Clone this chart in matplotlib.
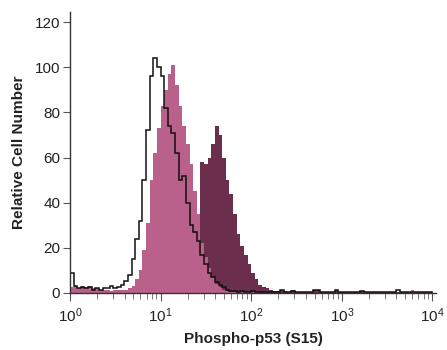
import numpy as np
import matplotlib
matplotlib.use("Agg")
import matplotlib.pyplot as plt
from matplotlib.ticker import LogLocator, FixedLocator

# log10 bin edges (0.04 decade bins, 10^0 .. 10^4)
bin_edges_log = np.round(np.arange(0, 4.0001, 0.04), 3)

# Isotype control (open, black outline)
control = [9, 3, 2, 2.5, 2, 2.5, 1.5, 2, 1.5, 2,
           2, 3, 2, 2.5, 3.5, 5.5, 8, 15, 24, 32,
           50, 72, 96, 104, 100, 96, 82, 74, 71, 62,
           50, 52, 40, 30, 27, 23, 17, 13, 9, 7,
           5, 3.5, 2.5, 1.5, 1, 1, 0.5, 1, 0.5, 0.5,
           1, 0.5, 0.5, 0.5, 0.5, 0.5, 0.5, 0.5, 1.5, 0.5,
           0.5, 1, 0.5, 0.5, 0.5, 0.5, 0.5, 1.5, 1.5, 0.5,
           0.5, 0.5, 0.5, 1.5, 0.5, 0.5, 0.5, 0.5, 0.5, 0.5,
           1, 0.5, 0.5, 0.5, 0.5, 0.5, 0.5, 0.5, 0.5, 0.5,
           1.5, 0.5, 0.5, 0.5, 0.5, 0.5, 0.5, 0.5, 0.5, 0.5]

# Untreated (light pink, filled)
untreated = [2.5, 3, 2, 3, 2.5, 3, 2, 2, 1.5, 1.5,
             1.5, 1, 1.5, 1.5, 1.5, 1.5, 2, 3, 6, 10,
             19, 31, 50, 62, 73, 83, 90, 97, 101, 92,
             83, 74, 66, 57, 45, 35, 22, 16, 11, 7,
             4, 2.5, 1.5, 1, 0.5, 0.5, 0.5, 0.5, 0.5, 0.5,
             0.5, 0.5, 0, 0, 0, 0, 0, 0, 0, 0,
             0, 0, 0, 0, 0, 0, 0, 0, 0, 0,
             0, 0, 0, 0, 0, 0, 0, 0, 0, 0,
             0, 0, 0, 0, 0, 0, 0, 0, 0, 0,
             0, 0, 0, 0, 1.5, 0, 0, 0, 0, 0]

# Treated (dark, filled)
treated = [1, 1, 1, 1, 1, 1, 1, 1, 1, 1,
           1, 1, 1, 1, 1, 1, 1, 1, 1, 1,
           2, 3, 5, 7, 9, 12, 15, 18, 21, 23,
           25, 28, 32, 36, 40, 33, 58, 57, 60, 66,
           74, 70, 60, 50, 44, 35, 26, 21, 17, 13,
           9, 6, 3.5, 2.5, 2, 1.5, 1, 1, 1.5, 1,
           0.5, 1.5, 0.5, 0.5, 0.5, 0.5, 0.5, 1.5, 1.5, 0.5,
           0.5, 0.5, 0.5, 1.5, 0.5, 0.5, 0.5, 0.5, 0.5, 0.5,
           1, 0.5, 0.5, 0.5, 0.5, 0.5, 0.5, 0.5, 0.5, 0.5,
           0.5, 0.5, 0.5, 0.5, 0.5, 0.5, 0.5, 0.5, 0.5, 0.5]

y_ticks = [0, 20, 40, 60, 80, 100, 120]
x_label = "Phospho-p53 (S15)"
y_label = "Relative Cell Number"

plt.rcParams['font.family'] = ['Liberation Sans', 'DejaVu Sans']
plt.rcParams['mathtext.fontset'] = 'custom'
plt.rcParams['mathtext.rm'] = 'Liberation Sans'
plt.rcParams['mathtext.it'] = 'Liberation Sans'

fig = plt.figure(figsize=(4.47, 3.5), dpi=100)
ax = fig.add_axes([0.1566, 0.1629, 0.8188, 0.8028])

edges = 10 ** bin_edges_log
ax.stairs(treated, edges, fill=True, color='#6b2e4d', lw=0)
ax.stairs(untreated, edges, fill=True, color='#b9618a', lw=0)
ax.stairs(control, edges, fill=False, color='#111111', lw=1.1)

ax.set_xscale('log')
ax.set_xlim(1, 10 ** 4.04)
ax.set_ylim(0, 124.5)
ax.set_yticks(y_ticks)
ax.xaxis.set_major_locator(FixedLocator([1, 10, 100, 1000, 10000]))
ax.xaxis.set_minor_locator(LogLocator(base=10, subs=np.arange(2, 10), numticks=20))

for s in ['top', 'right']:
    ax.spines[s].set_visible(False)
for s in ['left', 'bottom']:
    ax.spines[s].set_color('#333333')
    ax.spines[s].set_linewidth(1.0)

ax.tick_params(axis='y', which='major', length=5, width=0.8, color='#555555',
               labelsize=11, labelcolor='#222222', pad=2)
ax.tick_params(axis='x', which='major', length=6, width=0.8, color='#555555',
               labelsize=11, labelcolor='#222222', pad=4)
ax.tick_params(axis='x', which='minor', length=4, width=0.7, color='#777777')

ax.set_xlabel(x_label, fontsize=11, fontweight='bold', color='#222222', labelpad=5)
ax.set_ylabel(y_label, fontsize=11, fontweight='bold', color='#222222', labelpad=6)

fig.savefig('out.png', dpi=100)
